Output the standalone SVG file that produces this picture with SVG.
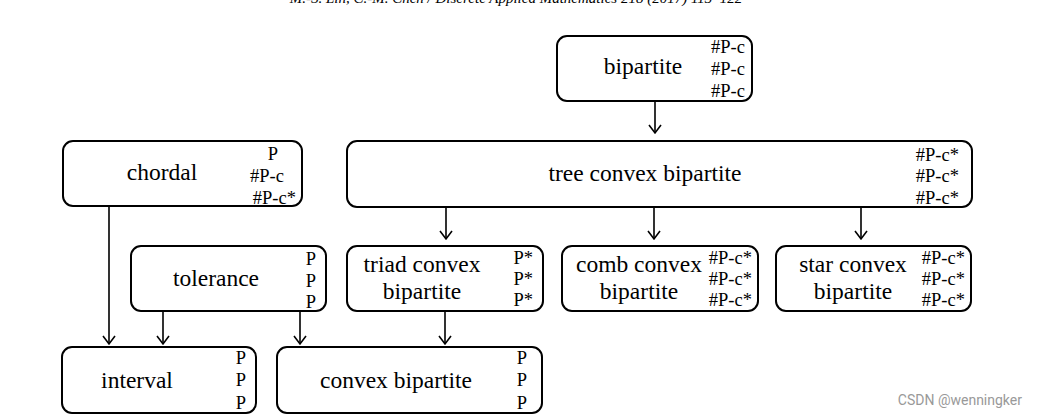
<svg xmlns="http://www.w3.org/2000/svg" width="1038" height="418" viewBox="0 0 1038 418">
<style>
.box{fill:#fff;stroke:#000;stroke-width:2}
.t{font-family:"Liberation Serif",serif;font-size:23.5px;fill:#000;text-anchor:middle}
.l{font-family:"Liberation Serif",serif;font-size:18.5px;fill:#000;text-anchor:end}
.c{stroke:#000;stroke-width:1.6;fill:none}
.h{stroke:#000;stroke-width:1.6;fill:none}
</style>
<rect width="1038" height="418" fill="#fff"/>
<text x="516" y="3" font-family="'Liberation Serif',serif" font-style="italic" font-size="15" text-anchor="middle" fill="#000">M.-S. Lin, C.-M. Chen / Discrete Applied Mathematics 218 (2017) 113–122</text>
<g id="connectors">
<path class="c" d="M655 101V133M446 207V239M654 207V239M861 207V239M109 206V344M163 311V344M300 311V344M445 311V344"/>
<path class="h" d="M649 125L655 133L661 125M440 231L446 239L452 231M648 231L654 239L660 231M855 231L861 239L867 231M103 336L109 344L115 336M157 336L163 344L169 336M294 336L300 344L306 336M439 336L445 344L451 336"/>
</g>
<g id="bipartite"><rect class="box" x="557" y="36" width="195" height="65" rx="10"/><text class="t" x="643" y="74">bipartite</text><text class="l" x="745" y="53">#P-c</text><text class="l" x="745" y="75">#P-c</text><text class="l" x="745" y="97">#P-c</text></g>
<g id="chordal"><rect class="box" x="63" y="141" width="239" height="65" rx="10"/><text class="t" x="162" y="180">chordal</text><text class="l" x="278" y="160">P</text><text class="l" x="284" y="182">#P-c</text><text class="l" x="296" y="204">#P-c*</text></g>
<g id="tree"><rect class="box" x="347" y="141" width="625" height="66" rx="10"/><text class="t" x="645" y="181">tree convex bipartite</text><text class="l" x="959" y="161">#P-c*</text><text class="l" x="959" y="182">#P-c*</text><text class="l" x="959" y="204">#P-c*</text></g>
<g id="tolerance"><rect class="box" x="131" y="246" width="195" height="65" rx="10"/><text class="t" x="216" y="286">tolerance</text><text class="l" x="316" y="265">P</text><text class="l" x="316" y="287">P</text><text class="l" x="316" y="308">P</text></g>
<g id="triad"><rect class="box" x="347" y="246" width="196" height="65" rx="10"/><text class="t" x="422" y="272">triad convex</text><text class="t" x="422" y="299">bipartite</text><text class="l" x="533" y="264">P*</text><text class="l" x="533" y="285">P*</text><text class="l" x="533" y="306">P*</text></g>
<g id="comb"><rect class="box" x="562" y="246" width="196" height="65" rx="10"/><text class="t" x="639" y="272">comb convex</text><text class="t" x="639" y="299">bipartite</text><text class="l" x="752" y="264">#P-c*</text><text class="l" x="752" y="285">#P-c*</text><text class="l" x="752" y="306">#P-c*</text></g>
<g id="star"><rect class="box" x="776" y="246" width="195" height="65" rx="10"/><text class="t" x="853" y="272">star convex</text><text class="t" x="853" y="299">bipartite</text><text class="l" x="965" y="264">#P-c*</text><text class="l" x="965" y="285">#P-c*</text><text class="l" x="965" y="306">#P-c*</text></g>
<g id="interval"><rect class="box" x="62" y="347" width="194" height="66" rx="10"/><text class="t" x="137" y="388">interval</text><text class="l" x="246" y="364">P</text><text class="l" x="246" y="386">P</text><text class="l" x="246" y="409">P</text></g>
<g id="convex"><rect class="box" x="277" y="347" width="265" height="66" rx="10"/><text class="t" x="396" y="388">convex bipartite</text><text class="l" x="527" y="364">P</text><text class="l" x="527" y="386">P</text><text class="l" x="527" y="409">P</text></g>
<text x="1022" y="405" font-family="Roboto,'Liberation Sans',sans-serif" font-size="14" fill="#999" text-anchor="end">CSDN @wenningker</text>
</svg>
